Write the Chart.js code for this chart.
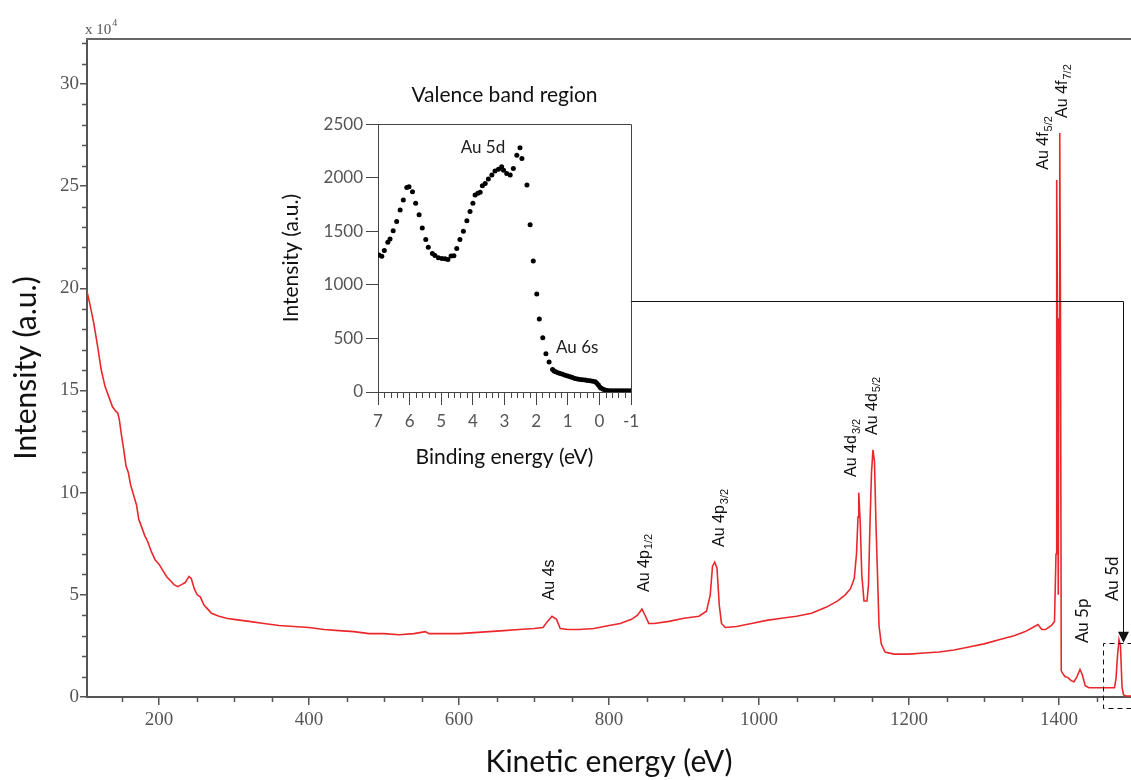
<!DOCTYPE html>
<html>
<head>
<meta charset="utf-8">
<script src="https://cdn.jsdelivr.net/npm/chart.js@4.4.1/dist/chart.umd.min.js"></script>
<style>
html, body { margin: 0; padding: 0; background: #fff; }
#wrap { position: relative; width: 1131px; height: 780px; overflow: hidden; }
#main { position: absolute; left: 0; top: 0; }
#inset { position: absolute; left: 270px; top: 70px; }
</style>
</head>
<body>
<div id="wrap">
  <canvas id="main" width="1131" height="780"></canvas>
  <canvas id="inset" width="380" height="420"></canvas>
</div>
<script>
// survey spectrum, intensity in units of 10^4
const kineticEnergy = [
  100, 103, 108, 113, 118, 123, 128, 133, 138, 142, 145, 147, 150, 153, 156, 159, 162, 166, 170, 173,
  177, 181, 185, 190, 195, 200, 205, 210, 215, 220, 225, 230, 235, 240, 243, 247, 251, 255, 260, 265,
  270, 280, 290, 300, 320, 340, 360, 380, 400, 420, 440, 460, 480, 500, 520, 540, 555, 560, 580, 600,
  620, 640, 660, 680, 700, 712, 718, 724, 730, 735, 745, 760, 780, 800, 815, 830, 838, 844, 848, 853,
  860, 880, 900, 920, 930, 935, 938, 941, 944, 947, 950, 955, 970, 990, 1010, 1030, 1050, 1070, 1090, 1105,
  1115, 1122, 1127, 1130, 1132, 1133, 1135, 1137, 1140, 1144, 1146, 1148, 1150, 1152, 1154, 1156, 1158, 1160, 1163, 1168,
  1180, 1200, 1220, 1240, 1260, 1280, 1300, 1320, 1340, 1355, 1365, 1372, 1377, 1382, 1390, 1394,
  1396, 1396.6, 1397.3, 1398, 1399, 1400, 1401, 1402, 1403,
  1404, 1408, 1412, 1416, 1420, 1424, 1428, 1431, 1435, 1440, 1460, 1474, 1476, 1478, 1480, 1482, 1484, 1486, 1490, 1496
];
const intensity = [
  20.6, 20.0, 19.2, 18.3, 17.2, 16.0, 15.2, 14.7, 14.2, 14.0, 13.9, 13.6, 12.8, 12.1, 11.3, 11.0, 10.4, 9.9, 9.4, 8.7,
  8.3, 7.9, 7.6, 7.1, 6.7, 6.5, 6.2, 5.9, 5.7, 5.5, 5.4, 5.5, 5.6, 5.9, 5.8, 5.3, 5.0, 4.9, 4.5, 4.3,
  4.1, 3.95, 3.85, 3.8, 3.7, 3.6, 3.5, 3.45, 3.4, 3.3, 3.25, 3.2, 3.1, 3.1, 3.05, 3.1, 3.2, 3.1, 3.1, 3.1,
  3.15, 3.2, 3.25, 3.3, 3.35, 3.4, 3.7, 3.95, 3.8, 3.35, 3.3, 3.3, 3.35, 3.5, 3.6, 3.8, 4.0, 4.3, 4.0, 3.6,
  3.6, 3.7, 3.85, 3.95, 4.2, 5.0, 6.4, 6.6, 6.3, 4.5, 3.6, 3.4, 3.45, 3.6, 3.75, 3.85, 3.95, 4.1, 4.4, 4.7,
  5.0, 5.3, 5.8, 7.0, 8.8, 10.0, 8.5, 6.0, 4.7, 4.7, 5.5, 8.5, 11.0, 12.1, 11.5, 8.4, 6.0, 3.5, 2.6, 2.2,
  2.1, 2.1, 2.15, 2.2, 2.3, 2.45, 2.6, 2.8, 3.0, 3.2, 3.4, 3.55, 3.3, 3.3, 3.5, 3.7,
  7.0, 18.5, 25.3, 18.5, 5.0, 18.5, 27.6, 18.5, 1.3,
  1.2, 1.0, 0.95, 0.8, 0.75, 1.0, 1.35, 1.1, 0.55, 0.45, 0.45, 0.45, 0.9, 2.0, 2.8, 2.5, 0.5, 0.1, 0.05, 0.05
];
const kineticTicks = [200, 400, 600, 800, 1000, 1200, 1400];
const intensityTicks = [0, 5, 10, 15, 20, 25, 30];

// valence band inset
const bindingEnergy = [
  6.97, 6.88, 6.80, 6.69, 6.62, 6.52, 6.41, 6.30, 6.20, 6.09, 6.02, 5.91, 5.81, 5.70, 5.60, 5.49, 5.41, 5.28, 5.20, 5.09,
  4.98, 4.88, 4.79, 4.69, 4.60, 4.51, 4.41, 4.30, 4.19, 4.09, 4.00, 3.93, 3.84, 3.77, 3.70, 3.61, 3.51, 3.40, 3.30, 3.19,
  3.09, 3.03, 2.93, 2.82, 2.72, 2.61, 2.51, 2.45, 2.29, 2.19, 2.09, 1.98, 1.90, 1.79, 1.69, 1.59, 1.48, 1.43, 1.38, 1.31,
  1.24, 1.16, 1.08, 1.00, 0.92, 0.85, 0.77, 0.69, 0.61, 0.53, 0.45, 0.37, 0.29, 0.21, 0.13, 0.08, 0.03, -0.02, -0.06, -0.12,
  -0.18, -0.26, -0.34, -0.42, -0.50, -0.58, -0.66, -0.74, -0.82, -0.90, -0.98
];
const vbIntensity = [
  1278, 1268, 1321, 1398, 1429, 1506, 1592, 1700, 1793, 1910, 1917, 1870, 1762, 1654, 1531, 1423, 1352, 1293, 1275, 1253,
  1247, 1244, 1238, 1269, 1272, 1340, 1423, 1500, 1599, 1685, 1762, 1840, 1855, 1864, 1926, 1947, 1988, 2025, 2062, 2080,
  2102, 2071, 2040, 2025, 2086, 2210, 2280, 2180, 1932, 1562, 1222, 914, 682, 506, 358, 281, 210, 195, 188, 180,
  173, 165, 157, 150, 142, 135, 127, 122, 117, 114, 111, 108, 105, 100, 95, 82, 65, 45, 34, 25,
  19, 15, 12, 12, 12, 12, 12, 12, 12, 12, 12
];
const bindingTicks = [7, 6, 5, 4, 3, 2, 1, 0, -1];
const vbTicks = [0, 500, 1000, 1500, 2000, 2500];

// peak labels, anchored at (energy, intensity) of the label's lower end
const peakLabels = [
  { text: 'Au 4s', sub: '', e: 721, i: 4.73 },
  { text: 'Au 4p', sub: '1/2', e: 847, i: 5.14 },
  { text: 'Au 4p', sub: '3/2', e: 948, i: 7.34 },
  { text: 'Au 4d', sub: '3/2', e: 1124, i: 10.77 },
  { text: 'Au 4d', sub: '5/2', e: 1151, i: 12.82 },
  { text: 'Au 4f', sub: '5/2', e: 1380, i: 25.8 },
  { text: 'Au 4f', sub: '7/2', e: 1405, i: 28.34 },
  { text: 'Au 5p', sub: '', e: 1432, i: 2.64, calibri: true },
  { text: 'Au 5d', sub: '', e: 1471, i: 4.70, calibri: true }
];

const tickGrey = '#555';
const fixedTicks = list => scale => { scale.ticks = list.map(v => ({ value: v })); };

function rotLabel(ctx, x, y, text, sub, font, subFont) {
  ctx.save();
  ctx.translate(x, y);
  ctx.rotate(-Math.PI / 2);
  ctx.textAlign = 'left';
  ctx.textBaseline = 'middle';
  ctx.fillStyle = '#111';
  ctx.font = font;
  ctx.fillText(text, 0, 0);
  if (sub) {
    const w = ctx.measureText(text).width;
    ctx.font = subFont;
    ctx.fillText(sub, w + 1, 5);
  }
  ctx.restore();
}

const mainExtras = {
  id: 'mainExtras',
  afterDraw(chart) {
    const ctx = chart.ctx;
    const xs = chart.scales.x, ys = chart.scales.y;
    const area = chart.chartArea;
    ctx.save();
    ctx.strokeStyle = tickGrey;
    ctx.lineWidth = 1.5;
    // minor ticks
    ctx.beginPath();
    for (let e = 150; e <= 1450; e += 50) {
      if (e % 200 === 0) continue;
      const px = Math.round(xs.getPixelForValue(e)) + 0.5;
      ctx.moveTo(px, area.bottom); ctx.lineTo(px, area.bottom + 5);
    }
    for (let v = 1; v <= 32; v++) {
      if (v % 5 === 0) continue;
      const py = Math.round(ys.getPixelForValue(v)) + 0.5;
      ctx.moveTo(area.left, py); ctx.lineTo(area.left - 5, py);
    }
    ctx.stroke();
    // top frame
    ctx.lineWidth = 2;
    ctx.strokeStyle = '#666';
    ctx.beginPath();
    ctx.moveTo(area.left - 1, area.top); ctx.lineTo(area.right, area.top);
    ctx.stroke();
    // x 10^4 multiplier
    ctx.fillStyle = tickGrey;
    ctx.textAlign = 'left';
    ctx.textBaseline = 'alphabetic';
    ctx.font = '15px "Liberation Serif"';
    ctx.fillText('x 10', 85, 34);
    const w = ctx.measureText('x 10').width;
    ctx.font = '10px "Liberation Serif"';
    ctx.fillText('4', 85 + w + 1, 26);

    // peak labels
    peakLabels.forEach(p => {
      const x = xs.getPixelForValue(p.e), y = ys.getPixelForValue(p.i);
      if (p.calibri) rotLabel(ctx, x, y, p.text, p.sub, '17px Lato', '12px Lato');
      else rotLabel(ctx, x, y, p.text, p.sub, '16px "Liberation Sans"', '11px "Liberation Sans"');
    });

    // connector from inset to the Au 5d valence band peak
    ctx.strokeStyle = '#111';
    ctx.lineWidth = 1;
    const lineY = Math.round(ys.getPixelForValue(19.4)) + 0.5;
    const x0 = xs.getPixelForValue(829);
    const xa = Math.round(xs.getPixelForValue(1485)) + 0.5;
    const tipY = ys.getPixelForValue(2.65);
    ctx.beginPath();
    ctx.moveTo(x0, lineY); ctx.lineTo(xa, lineY); ctx.lineTo(xa, tipY - 10);
    ctx.stroke();
    ctx.fillStyle = '#111';
    ctx.beginPath();
    ctx.moveTo(xa - 5.5, tipY - 11); ctx.lineTo(xa + 5.5, tipY - 11); ctx.lineTo(xa, tipY);
    ctx.closePath(); ctx.fill();
    // dashed box around Au 5d
    ctx.setLineDash([5, 4]);
    const bx0 = Math.round(xs.getPixelForValue(1459)) + 0.5, bx1 = xs.getPixelForValue(1510);
    const by0 = Math.round(ys.getPixelForValue(2.65)) + 0.5, by1 = Math.round(ys.getPixelForValue(-0.55)) + 0.5;
    ctx.beginPath();
    ctx.moveTo(bx1, by0); ctx.lineTo(bx0, by0); ctx.lineTo(bx0, by1); ctx.lineTo(bx1, by1);
    ctx.stroke();
    ctx.restore();
  }
};

new Chart(document.getElementById('main'), {
  type: 'line',
  data: {
    datasets: [{
      data: kineticEnergy.map((e, k) => ({ x: e, y: intensity[k] })),
      borderColor: 'rgb(234, 40, 44)',
      borderWidth: 1.6,
      pointRadius: 0,
      tension: 0
    }]
  },
  options: {
    responsive: false,
    devicePixelRatio: 1,
    animation: false,
    layout: { padding: { top: 39, right: 0, left: 0, bottom: 0 } },
    plugins: { legend: { display: false }, tooltip: { enabled: false } },
    scales: {
      x: {
        type: 'linear',
        min: 104,
        max: 1496,
        afterBuildTicks: fixedTicks(kineticTicks),
        afterFit: s => { s.height = 83; s.paddingRight = 0; s.paddingLeft = 0; },
        border: { color: tickGrey, width: 2 },
        grid: { drawOnChartArea: false, drawTicks: true, tickLength: 8, color: tickGrey, lineWidth: 1.5 },
        ticks: {
          maxRotation: 0, padding: 4, autoSkip: false,
          callback: v => String(v),
          color: tickGrey, font: { family: 'Liberation Serif', size: 19 }
        },
        title: {
          display: true, text: 'Kinetic energy (eV)', color: '#111',
          font: { family: 'Lato', size: 30 }, padding: { top: 0, bottom: 0 }
        }
      },
      y: {
        min: 0,
        max: 32.2,
        afterBuildTicks: fixedTicks(intensityTicks),
        afterFit: s => { s.width = 87; },
        border: { color: tickGrey, width: 2 },
        grid: { drawOnChartArea: false, drawTicks: true, tickLength: 7, color: tickGrey, lineWidth: 1.5 },
        ticks: {
          padding: 1, autoSkip: false,
          callback: v => String(v),
          color: tickGrey, font: { family: 'Liberation Serif', size: 19 }
        },
        title: {
          display: true, text: 'Intensity (a.u.)', color: '#111',
          font: { family: 'Lato', size: 30 }, padding: { top: 8, bottom: 0 }
        }
      }
    }
  },
  plugins: [mainExtras]
});

const insetExtras = {
  id: 'insetExtras',
  afterDraw(chart) {
    const ctx = chart.ctx;
    const xs = chart.scales.x, ys = chart.scales.y;
    const area = chart.chartArea;
    ctx.save();
    ctx.strokeStyle = '#444';
    ctx.lineWidth = 1;
    ctx.beginPath();
    for (let k = -5; k <= 35; k++) {
      if (k % 5 === 0) continue;
      const px = Math.round(xs.getPixelForValue(k / 5)) + 0.5;
      ctx.moveTo(px, area.bottom); ctx.lineTo(px, area.bottom + 6);
    }
    // top and right frame
    ctx.moveTo(area.left, Math.round(area.top) + 0.5);
    ctx.lineTo(Math.round(area.right) + 0.5, Math.round(area.top) + 0.5);
    ctx.lineTo(Math.round(area.right) + 0.5, area.bottom);
    ctx.stroke();
    ctx.fillStyle = '#222';
    ctx.font = '17px Lato';
    ctx.textAlign = 'center';
    ctx.textBaseline = 'middle';
    ctx.fillText('Au 5d', xs.getPixelForValue(3.68), ys.getPixelForValue(2287));
    ctx.fillText('Au 6s', xs.getPixelForValue(0.70), ys.getPixelForValue(417));
    ctx.restore();
  }
};

new Chart(document.getElementById('inset'), {
  type: 'scatter',
  data: {
    datasets: [{
      data: bindingEnergy.map((b, k) => ({ x: b, y: vbIntensity[k] })),
      backgroundColor: '#000',
      borderColor: '#000',
      pointRadius: 2.5,
      pointBorderWidth: 0
    }]
  },
  options: {
    responsive: false,
    devicePixelRatio: 1,
    animation: false,
    layout: { padding: { top: 0, right: 19, left: 0, bottom: 0 } },
    plugins: {
      legend: { display: false },
      tooltip: { enabled: false },
      title: {
        display: true, text: 'Valence band region', fullSize: false, color: '#111',
        font: { family: 'Lato', size: 21, weight: 'normal' }, padding: { top: 13, bottom: 16 }
      }
    },
    scales: {
      x: {
        type: 'linear',
        reverse: true,
        min: -1,
        max: 7,
        afterBuildTicks: fixedTicks(bindingTicks),
        afterFit: s => { s.height = 98; },
        border: { color: '#444', width: 1 },
        grid: { drawOnChartArea: false, drawTicks: true, tickLength: 13, color: '#444' },
        ticks: {
          padding: 6, autoSkip: false, callback: v => String(v),
          color: tickGrey, font: { family: 'Lato', size: 17 }
        },
        title: {
          display: true, text: 'Binding energy (eV)', color: '#111',
          font: { family: 'Lato', size: 21 }, padding: { top: 0, bottom: 20 }
        }
      },
      y: {
        min: 0,
        max: 2500,
        afterBuildTicks: fixedTicks(vbTicks),
        afterFit: s => { s.width = 108; },
        border: { color: '#444', width: 1 },
        grid: { drawOnChartArea: false, drawTicks: true, tickLength: 12, color: '#444' },
        ticks: {
          padding: 3, autoSkip: false, callback: v => String(v),
          color: tickGrey, font: { family: 'Lato', size: 17 }
        },
        title: {
          display: true, text: 'Intensity (a.u.)', color: '#111',
          font: { family: 'Lato', size: 21 }, padding: { top: 9, bottom: 0 }
        }
      }
    }
  },
  plugins: [insetExtras]
});
</script>
</body>
</html>
